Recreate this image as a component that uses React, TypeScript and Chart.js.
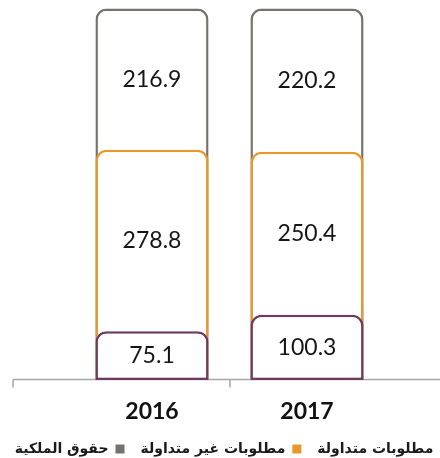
import React, { useEffect, useRef } from 'react';
import { Chart, registerables } from 'chart.js';
Chart.register(...registerables);

// ---- data ----
const categories = ['2016', '2017'];
const seriesNames = ['مطلوبات متداولة', 'مطلوبات غير متداولة', 'حقوق الملكية'];
const currentLiabilities = [75.1, 100.3];
const nonCurrentLiabilities = [278.8, 250.4];
const equity = [216.9, 220.2];
const yMax = 584;

// ---- style ----
const colors = ['#6d3b5e', '#e8982b', '#76726d'];
const SHIFT = 18; // canvas is shifted left so the legend is centred like the original
const CANVAS_W = 500;
const CANVAS_H = 466;
const AXIS_START_X = 13 + SHIFT;
const LEFT_SPACE = 74.5 + SHIFT;
const RIGHT_SPACE = CANVAS_W - (384.5 + SHIFT);
const LEGEND_PAD = 16;

const segments = [currentLiabilities, nonCurrentLiabilities, equity];
const cumulative = segments.map((_, s) =>
  categories.map((__, i) => segments.slice(0, s + 1).reduce((a, arr) => a + arr[i], 0))
);

const overlay = {
  id: 'overlay',
  beforeDatasetsDraw(chart: any) {
    const ctx = chart.ctx;
    const x = chart.scales.x;
    const y = chart.scales.y;
    const y0 = Math.round(y.getPixelForValue(0)) - 0.5;
    const mid = (x.getPixelForValue(0) + x.getPixelForValue(1)) / 2;
    ctx.save();
    ctx.strokeStyle = '#a6a6a6';
    ctx.lineWidth = 1.5;
    ctx.beginPath();
    ctx.moveTo(AXIS_START_X, y0);
    ctx.lineTo(chart.width, y0);
    [AXIS_START_X, Math.round(mid)].forEach((tx) => {
      ctx.moveTo(tx, y0);
      ctx.lineTo(tx, y0 + 8);
    });
    ctx.stroke();
    ctx.restore();
  },
  afterDatasetsDraw(chart: any) {
    const ctx = chart.ctx;
    const x = chart.scales.x;
    const y = chart.scales.y;
    ctx.save();
    ctx.font = '23px Lato';
    ctx.fillStyle = '#151515';
    ctx.textAlign = 'center';
    ctx.textBaseline = 'middle';
    categories.forEach((_, i) => {
      let base = 0;
      segments.forEach((arr) => {
        const v = arr[i];
        const yc = y.getPixelForValue(base + v / 2);
        ctx.fillText(v.toFixed(1), x.getPixelForValue(i), yc);
        base += v;
      });
    });
    ctx.restore();
  },
};

export default function App() {
  const ref = useRef<HTMLCanvasElement | null>(null);
  useEffect(() => {
    if (!ref.current) return;
    const chart = new Chart(ref.current, {
      type: 'bar',
      data: {
        labels: categories,
        datasets: seriesNames.map((name, s) => ({
          label: name,
          data: cumulative[s],
          backgroundColor: '#ffffff',
          borderColor: colors[s],
          borderWidth: 2.5,
          borderSkipped: false,
          borderRadius: { topLeft: 11, topRight: 11, bottomLeft: 0, bottomRight: 0 },
          categoryPercentage: 1,
          barPercentage: 0.73,
        })),
      },
      options: {
        animation: false,
        responsive: false,
        devicePixelRatio: 1,
        layout: { padding: 0 },
        scales: {
          x: {
            stacked: true,
            grid: { display: false, drawTicks: false },
            border: { display: false },
            ticks: {
              padding: 18,
              color: '#111',
              font: { family: 'Lato', size: 23, weight: 'bold' },
            },
            afterFit: (s: any) => {
              s.height = 46;
            },
          },
          y: {
            stacked: false,
            min: 0,
            max: yMax,
            grid: { display: false },
            border: { display: false },
            ticks: { display: false },
            afterFit: (s: any) => {
              s.width = LEFT_SPACE;
            },
          },
          y2: {
            position: 'right',
            min: 0,
            max: 1,
            grid: { display: false },
            border: { display: false },
            ticks: { display: false },
            afterFit: (s: any) => {
              s.width = RIGHT_SPACE;
            },
          },
        },
        plugins: {
          tooltip: { enabled: false },
          legend: {
            position: 'bottom',
            rtl: true,
            textDirection: 'rtl',
            labels: {
              boxWidth: 9,
              boxHeight: 9,
              padding: LEGEND_PAD,
              color: '#1a1a1a',
              font: { family: 'DejaVu Sans', size: 14, weight: 'bold' },
              generateLabels: (chart: any) =>
                chart.data.datasets.map((d: any, i: number) => ({
                  text: d.label,
                  fillStyle: colors[i],
                  strokeStyle: colors[i],
                  lineWidth: 0,
                  fontColor: '#1a1a1a',
                  datasetIndex: i,
                  hidden: false,
                })),
            },
          },
        },
      },
      plugins: [overlay],
    } as any);
    return () => chart.destroy();
  }, []);
  return (
    <div style={{ position: 'fixed', left: 0, top: 0, width: 440, height: 458, overflow: 'hidden' }}>
      <canvas
        ref={ref}
        width={CANVAS_W}
        height={CANVAS_H}
        style={{ display: 'block', marginLeft: -SHIFT }}
      />
    </div>
  );
}
